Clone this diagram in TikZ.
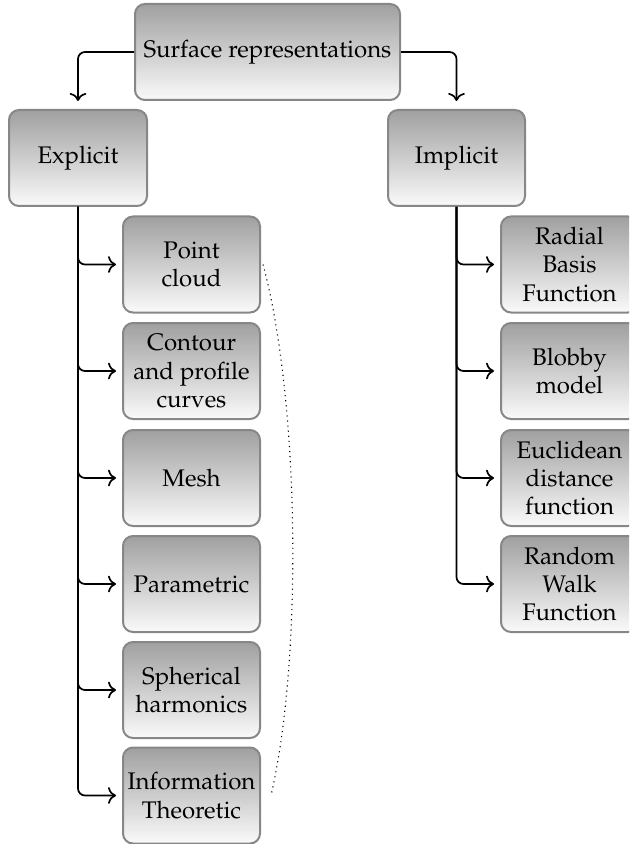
\documentclass[tikz,border=0pt]{standalone}
\usepackage[T1]{fontenc}
\usepackage{mathpazo}
\usetikzlibrary{arrows.meta}
\definecolor{boxtop}{RGB}{160,160,160}
\definecolor{boxbot}{RGB}{250,250,250}
\definecolor{boxline}{RGB}{135,135,135}
\tikzset{
  box/.style={draw=boxline, line width=1pt, rounded corners=5pt,
    top color=boxtop, bottom color=boxbot, align=center, inner sep=2pt,
    font=\fontsize{12}{14.2}\selectfont, minimum height=48pt},
  child/.style={box, minimum width=68.5pt},
  conn/.style={draw=black, line width=0.85pt, rounded corners=3.5pt, -{To[scale=1.15]}},
  dots/.style={draw=black, dotted, line width=0.55pt}
}
\begin{document}
\begin{tikzpicture}[x=0.5pt, y=0.5pt]
  \useasboundingbox (0,0) rectangle (629,-844);
  \clip (0,0) rectangle (629,-844);

  \node[box, minimum width=132.5pt] (top) at (267.5,-52) {Surface representations};
  \node[box, minimum width=69pt] (exp) at (78,-158) {Explicit};
  \node[box, minimum width=68.5pt] (imp) at (456.5,-158) {Implicit};

  % explicit children
  \node[child] (pc)   at (191.5,-264.5) {Point\\cloud};
  \node[child] (cont) at (191.5,-371)   {Contour\\and profile\\curves};
  \node[child] (mesh) at (191.5,-478)   {Mesh};
  \node[child] (par)  at (191.5,-584)   {Parametric};
  \node[child] (sph)  at (191.5,-690)   {Spherical\\harmonics};
  \node[child] (info) at (191.5,-795.5) {Information\\Theoretic};

  % implicit children
  \node[child] (rbf)  at (569.5,-264.5) {Radial\\Basis\\Function};
  \node[child] (blob) at (569.5,-371)   {Blobby\\model};
  \node[child] (euc)  at (569.5,-478)   {Euclidean\\distance\\function};
  \node[child] (rw)   at (569.5,-584)   {Random\\Walk\\Function};

  % top connectors
  \draw[conn, shorten >=4pt] (top.west) -| (exp.north);
  \draw[conn, shorten >=4pt] (top.east) -| (imp.north);

  % explicit connectors
  \foreach \c in {pc,cont,mesh,par,sph,info}
    \draw[conn, shorten >=3pt] (exp.south) |- (\c.west);
  % implicit connectors
  \foreach \c in {rbf,blob,euc,rw}
    \draw[conn, shorten >=3pt] (imp.south) |- (\c.west);

  % dotted grouping curve
  \draw[dots] ([xshift=1pt]pc.east) to[out=-75, in=77, looseness=0.68] ([xshift=5pt]info.east);
\end{tikzpicture}
\end{document}
